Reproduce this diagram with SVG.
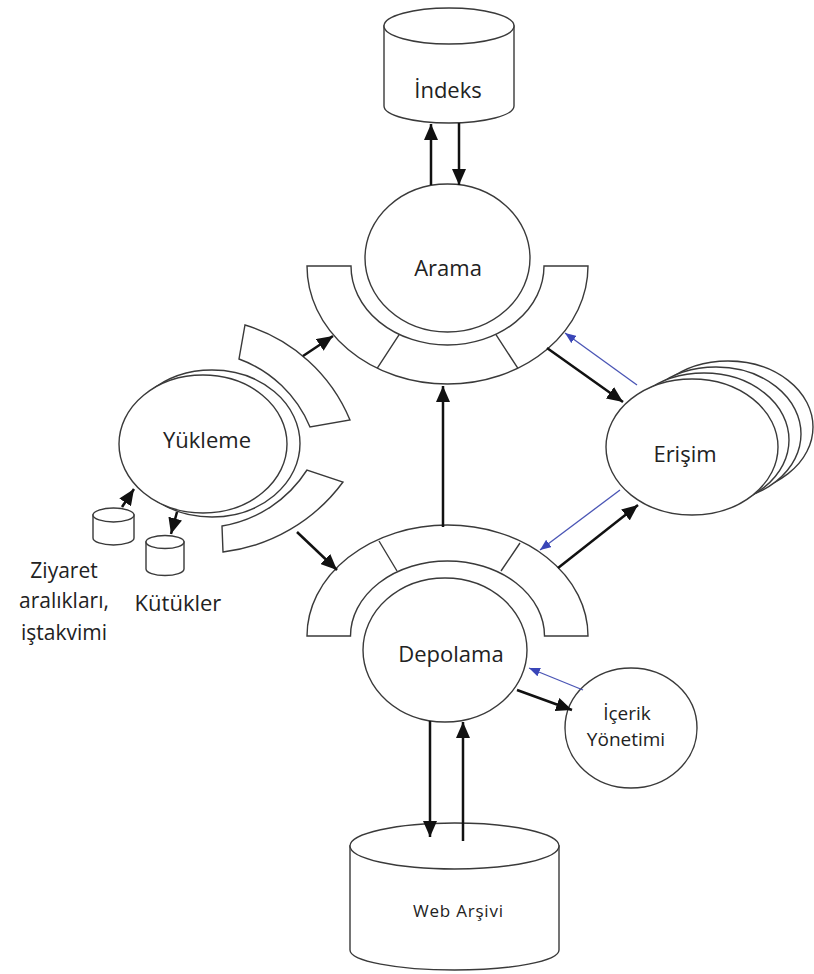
<svg xmlns="http://www.w3.org/2000/svg" width="814" height="974" viewBox="0 0 814 974">
  <defs>
    <style>
      .shape { fill: #fff; stroke: #3a3a3a; stroke-width: 1.4; }
      .div { fill: none; stroke: #3a3a3a; stroke-width: 1.4; }
      .lbl { font-family: "Open Sans", "Liberation Sans", sans-serif; font-size: 22px; fill: #222; text-anchor: middle; }
      .small { font-size: 19px; }
      .note { font-size: 21px; }
      .arrow { fill: none; stroke: #111; stroke-width: 2.5; marker-end: url(#head); }
      .back { fill: none; stroke: #4a55b5; stroke-width: 1.3; marker-end: url(#headBlue); }
    </style>
    <marker id="head" markerUnits="userSpaceOnUse" markerWidth="16" markerHeight="14" refX="16" refY="7" orient="auto">
      <path d="M0,0 L16,7 L0,14 Z" fill="#111"/>
    </marker>
    <marker id="headBlue" markerUnits="userSpaceOnUse" markerWidth="11" markerHeight="9" refX="11" refY="4.5" orient="auto">
      <path d="M0,0 L11,4.5 L0,9 Z" fill="#3a46b8"/>
    </marker>
  </defs>

  <rect width="814" height="974" fill="#fff"/>

  <!-- index store -->
  <g id="indeks">
    <path class="shape" d="M384,26 L384,106 A65,17 0 0 0 514,106 L514,26 Z"/>
    <ellipse class="shape" cx="449" cy="26" rx="65" ry="18"/>
    <text class="lbl" x="448" y="98">İndeks</text>
  </g>

  <!-- search module with its interface band -->
  <g id="arama">
    <ellipse class="shape" cx="447.5" cy="258" rx="82.5" ry="74"/>
    <path class="shape" d="M307,266 A140.5,118 0 0 0 588,266 L544,266 A96.5,79 0 0 1 351,266 Z"/>
    <path class="div" d="M377.3,368.2 L399.3,334.4 M517.8,368.2 L495.8,334.4"/>
    <text class="lbl" x="448" y="276">Arama</text>
  </g>

  <!-- loading module: stacked outline plus two interface segments -->
  <g id="yukleme">
    <ellipse class="shape" cx="212" cy="443.5" rx="88" ry="73.5"/>
    <ellipse class="shape" cx="203" cy="444" rx="84" ry="69"/>
    <path class="shape" d="M245,325 A165,165 0 0 1 350,420 L310,427 A122,122 0 0 0 239,359 Z"/>
    <path class="shape" d="M343,482 A175,175 0 0 1 223,552 L222,526 A125,125 0 0 0 307,470 Z"/>
    <text class="lbl" x="207" y="448">Yükleme</text>
  </g>

  <!-- access module drawn as a stack of instances -->
  <g id="erisim">
    <ellipse class="shape" cx="728" cy="427" rx="85" ry="66"/>
    <ellipse class="shape" cx="716" cy="434" rx="85" ry="67"/>
    <ellipse class="shape" cx="704" cy="440" rx="85" ry="67"/>
    <ellipse class="shape" cx="692" cy="447" rx="86" ry="68"/>
    <text class="lbl" x="685" y="462">Erişim</text>
  </g>

  <!-- storage module with its interface band -->
  <g id="depolama">
    <ellipse class="shape" cx="445" cy="650" rx="82" ry="72"/>
    <path class="shape" d="M307,636 A140.5,111 0 0 1 588,636 L544.5,636 A97,75 0 0 0 350.5,636 Z"/>
    <path class="div" d="M379,541 L397,571 M520,543 L501,571"/>
    <text class="lbl" x="451" y="662">Depolama</text>
  </g>

  <!-- content management -->
  <g id="icerik">
    <ellipse class="shape" cx="631" cy="728" rx="66" ry="60"/>
    <text class="lbl small" x="627" y="720">İçerik</text>
    <text class="lbl small" x="626" y="746">Yönetimi</text>
  </g>

  <!-- web archive store -->
  <g id="web-arsivi">
    <path class="shape" d="M350,846 L350,950 A104.5,20 0 0 0 559,950 L559,846 Z"/>
    <ellipse class="shape" cx="454.5" cy="846" rx="104.5" ry="23"/>
    <text class="lbl" x="458" y="917" style="font-size:17px" textLength="90" lengthAdjust="spacing">Web Arşivi</text>
  </g>

  <!-- visit intervals / schedule store -->
  <g id="ziyaret">
    <path class="shape" d="M93,515 L93,538 A20.5,7 0 0 0 134,538 L134,515 Z"/>
    <ellipse class="shape" cx="113.5" cy="515" rx="20.5" ry="7"/>
    <text class="lbl note" x="64" y="578">Ziyaret</text>
    <text class="lbl note" x="64" y="608">aralıkları,</text>
    <text class="lbl note" x="64" y="640">iştakvimi</text>
  </g>

  <!-- log store -->
  <g id="kutukler">
    <path class="shape" d="M146,542 L146,569 A19,6.5 0 0 0 184,569 L184,542 Z"/>
    <ellipse class="shape" cx="165" cy="542" rx="19" ry="6.5"/>
    <text class="lbl" x="178" y="611">Kütükler</text>
  </g>

  <!-- connectors -->
  <g id="connectors">
    <path class="arrow" d="M431,185 L431,124"/>
    <path class="arrow" d="M459,123 L459,185"/>
    <path class="arrow" d="M443,527 L443,386"/>
    <path class="arrow" d="M303,356 L333,336"/>
    <path class="arrow" d="M297,532 L337,570"/>
    <path class="arrow" d="M547,348 L623,402"/>
    <path class="back" d="M637,385 L565,333"/>
    <path class="arrow" d="M558,568 L638,505"/>
    <path class="back" d="M620,490 L540,550"/>
    <path class="arrow" d="M517,690 L572,710"/>
    <path class="back" d="M583,690 L529,668"/>
    <path class="arrow" d="M430,721 L430,837"/>
    <path class="arrow" d="M463,841 L463,722"/>
    <path class="arrow" d="M122,507 L134,489"/>
    <path class="arrow" d="M177,512 L171,534"/>
  </g>
</svg>
